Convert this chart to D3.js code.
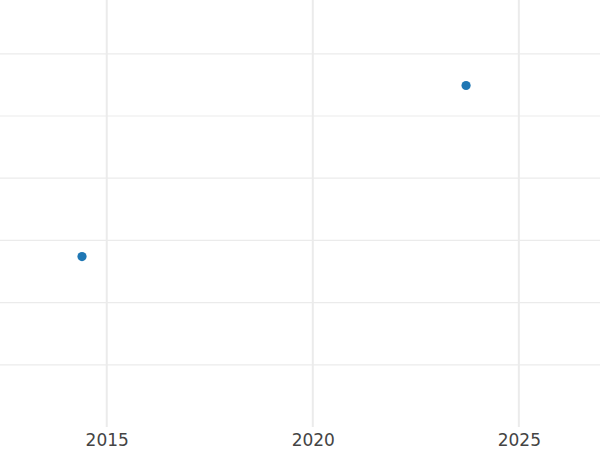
<!DOCTYPE html>
<html>
<head>
<meta charset="utf-8">
<script src="https://cdn.jsdelivr.net/npm/d3@7"></script>
<style>
  html, body { margin: 0; padding: 0; background: #fff; }
  svg { display: block; }
</style>
</head>
<body>
<svg id="chart" width="600" height="450"></svg>
<script>
// Data
const years = [2014.4, 2023.72];
const values = [2.74, 5.49];
const xTicks = [2015, 2020, 2025];
const xTickLabels = ["2015", "2020", "2025"];
const yTicks = [1, 2, 3, 4, 5, 6];

const W = 600, H = 450;
const plotBottom = 427;

const x = d3.scaleLinear().domain([2012.41, 2026.97]).range([0, W]);
const y = d3.scaleLinear().domain([0, 6.865]).range([plotBottom, 0]);

const svg = d3.select("#chart");

// horizontal gridlines
svg.append("g").selectAll("line").data(yTicks).join("line")
  .attr("x1", 0).attr("x2", W)
  .attr("y1", d => y(d)).attr("y2", d => y(d))
  .attr("stroke", "#ebebeb").attr("stroke-width", 1.2);

// vertical gridlines
svg.append("g").selectAll("line").data(xTicks).join("line")
  .attr("x1", d => x(d)).attr("x2", d => x(d))
  .attr("y1", 0).attr("y2", plotBottom)
  .attr("stroke", "#ebebeb").attr("stroke-width", 2);

// x axis labels
const xAxis = d3.axisBottom(x).tickValues(xTicks)
  .tickFormat((d, i) => xTickLabels[i]).tickSize(0).tickPadding(7);
const gx = svg.append("g").attr("transform", `translate(0,${plotBottom})`).call(xAxis);
gx.select(".domain").remove();
gx.selectAll("text")
  .attr("fill", "#444")
  .style("font-family", "DejaVu Sans, sans-serif")
  .style("font-size", "17px");

// points
svg.append("g").selectAll("circle").data(years).join("circle")
  .attr("cx", d => x(d))
  .attr("cy", (d, i) => y(values[i]))
  .attr("r", 4.6)
  .attr("fill", "#1f77b4");
</script>
</body>
</html>
